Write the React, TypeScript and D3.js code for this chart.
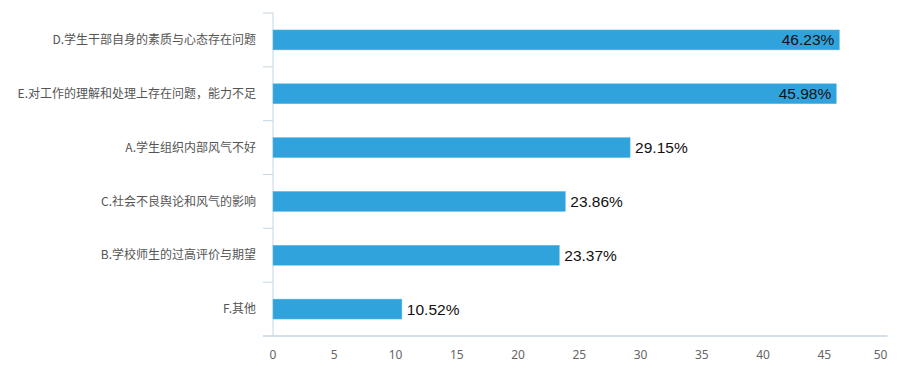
import React from "react";
import * as d3 from "d3";

const categories = [
  "D.学生干部自身的素质与心态存在问题",
  "E.对工作的理解和处理上存在问题，能力不足",
  "A.学生组织内部风气不好",
  "C.社会不良舆论和风气的影响",
  "B.学校师生的过高评价与期望",
  "F.其他",
];
const values = [46.23, 45.98, 29.15, 23.86, 23.37, 10.52];
const xTicks = [0, 5, 10, 15, 20, 25, 30, 35, 40, 45, 50];

const W = 899;
const H = 383;
const left = 273;
const right = 885.5;
const top = 13;
const bottom = 336;

export default function App() {
  const x = d3.scaleLinear().domain([0, 50]).range([left, right]);
  const y = d3.scaleBand<string>().domain(categories).range([top, bottom]).paddingInner(0.63).paddingOuter(0.315);
  const band = d3.scaleBand<string>().domain(categories).range([top, bottom]);
  const axisColor = "#c5d6e4";
  return (
    <svg width={W} height={H} style={{ position: "absolute", left: 0, top: 0, background: "#fff" }}>
      {/* y axis */}
      <line x1={left} x2={left} y1={top} y2={bottom} stroke={axisColor} strokeWidth={1} />
      {categories.map((c, i) => (
        <line key={"t" + i} x1={left - 10} x2={left} y1={band(c)!} y2={band(c)!} stroke={axisColor} />
      ))}
      {/* x axis */}
      <line x1={left - 10} x2={right + 2} y1={bottom} y2={bottom} stroke={axisColor} strokeWidth={1.5} />
      {xTicks.map((t) => (
        <text key={"x" + t} x={t === 50 ? x(t) - 5 : x(t)} y={359} textAnchor="middle" fontFamily="'Noto Sans', sans-serif" fontSize={12} fill="#666">
          {t}
        </text>
      ))}
      {categories.map((c, i) => {
        const cy = band(c)! + band.bandwidth() / 2;
        const v = values[i];
        const inside = v > 40;
        return (
          <g key={c}>
            <rect x={x(0)} y={y(c)!} width={x(v) - x(0)} height={y.bandwidth()} fill="#31a3dc" stroke="#5bb8e6" strokeWidth={0.5} />
            <text x={left - 17} y={cy} dy="0.35em" textAnchor="end" fontFamily="'Noto Sans CJK SC', sans-serif" fontSize={12} fill="#555">
              {c}
            </text>
            <text
              x={inside ? x(v) - 5 : x(v) + 5}
              y={cy}
              dy="0.36em"
              textAnchor={inside ? "end" : "start"}
              fontFamily="'Liberation Sans', sans-serif"
              fontSize={15.5}
              fill="#111"
            >
              {v.toFixed(2)}%
            </text>
          </g>
        );
      })}
    </svg>
  );
}
